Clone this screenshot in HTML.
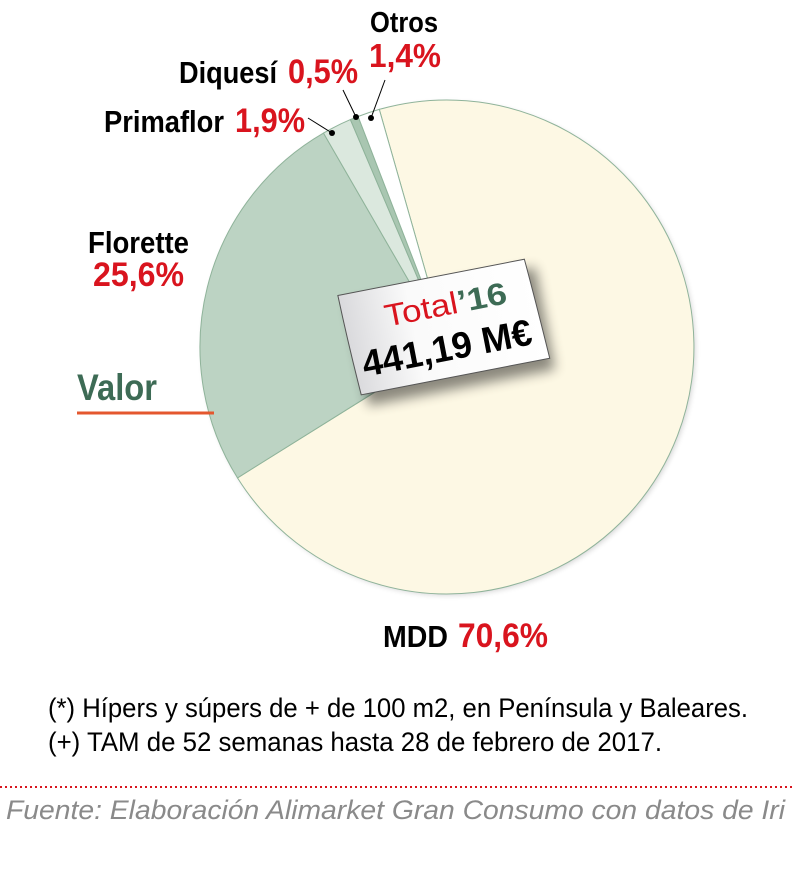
<!DOCTYPE html>
<html><head><meta charset="utf-8"><style>
html,body{margin:0;padding:0;background:#fff;}
svg{display:block;}
text{font-family:"Liberation Sans",sans-serif;}
</style></head><body>
<svg width="794" height="869" viewBox="0 0 794 869" xmlns="http://www.w3.org/2000/svg">
<defs>
<filter id="sh" x="-30%" y="-30%" width="160%" height="160%"><feGaussianBlur stdDeviation="6"/></filter>
<filter id="ps" x="-10%" y="-10%" width="120%" height="120%"><feGaussianBlur stdDeviation="3"/></filter>
<linearGradient id="cg" x1="0" y1="0" x2="1" y2="0"><stop offset="0" stop-color="#d9d9dc"/><stop offset="0.35" stop-color="#fafafa"/><stop offset="1" stop-color="#ffffff"/></linearGradient>
</defs>
<circle cx="449" cy="349" r="246" fill="#000" opacity="0.18" filter="url(#ps)"/>
<!-- pie -->
<g stroke="#8fb39a" stroke-width="1">
<path d="M447,347 L379.3,109.4 A247,247 0 1 1 237.5,477.9 Z" fill="#fdf8e4"/>
<path d="M447,347 L237.5,477.9 A247,247 0 0 1 323.5,133.1 Z" fill="#bcd3c3"/>
<path d="M447,347 L323.5,133.1 A247,247 0 0 1 350.4,119.6 Z" fill="#dbe8de"/>
<path d="M447,347 L350.4,119.6 A247,247 0 0 1 358.1,116.5 Z" fill="#a9c6b1"/>
<path d="M447,347 L358.1,116.5 A247,247 0 0 1 379.3,109.4 Z" fill="#ffffff"/>
</g>
<!-- card -->
<g transform="translate(443,328) rotate(-11)">
<rect x="-88" y="-42" width="190" height="104" fill="#000" opacity="0.45" filter="url(#sh)"/>
<path d="M-97,-52 L93,-52 Q96,-10 99,50 L-93,50 Q-96,0 -97,-52 Z" fill="url(#cg)" stroke="#555" stroke-width="1"/>
<text x="-55" y="-12" font-size="31" fill="#d9141e" textLength="74" lengthAdjust="spacingAndGlyphs">Total</text>
<text x="19" y="-12" font-size="31" font-weight="bold" fill="#3d6b55" textLength="50" lengthAdjust="spacingAndGlyphs">’16</text>
<text x="-86" y="33" font-size="37" font-weight="bold" fill="#000" textLength="172" lengthAdjust="spacingAndGlyphs">441,19 M€</text>
</g>
<!-- leader lines -->
<g stroke="#000" stroke-width="1">
<line x1="308" y1="118" x2="332" y2="133"/>
<line x1="343" y1="90" x2="356" y2="117"/>
<line x1="385" y1="80" x2="371" y2="118"/>
</g>
<circle cx="332" cy="133" r="3"/><circle cx="356" cy="117" r="3"/><circle cx="371" cy="118" r="3"/>
<!-- labels -->
<g font-weight="bold">
<text x="370" y="32" font-size="29" fill="#000" textLength="68" lengthAdjust="spacingAndGlyphs">Otros</text>
<text x="369" y="67" font-size="33" fill="#d9141e" textLength="72" lengthAdjust="spacingAndGlyphs">1,4%</text>
<text x="179" y="83" font-size="31" fill="#000" textLength="98" lengthAdjust="spacingAndGlyphs">Diquesí</text>
<text x="288" y="83" font-size="34" fill="#d9141e" textLength="70" lengthAdjust="spacingAndGlyphs">0,5%</text>
<text x="104" y="132" font-size="31" fill="#000" textLength="120" lengthAdjust="spacingAndGlyphs">Primaflor</text>
<text x="235" y="132" font-size="34" fill="#d9141e" textLength="70" lengthAdjust="spacingAndGlyphs">1,9%</text>
<text x="88" y="253" font-size="31" fill="#000" textLength="101" lengthAdjust="spacingAndGlyphs">Florette</text>
<text x="93" y="286" font-size="34" fill="#d9141e" textLength="91" lengthAdjust="spacingAndGlyphs">25,6%</text>
<text x="383" y="647" font-size="31" fill="#000" textLength="65" lengthAdjust="spacingAndGlyphs">MDD</text>
<text x="458" y="647" font-size="34" fill="#d9141e" textLength="90" lengthAdjust="spacingAndGlyphs">70,6%</text>
<text x="77" y="400" font-size="37" fill="#3d6b55" textLength="80" lengthAdjust="spacingAndGlyphs">Valor</text>
</g>
<line x1="77" y1="413" x2="214" y2="413" stroke="#e4572e" stroke-width="3"/>
<!-- footnotes -->
<text x="48" y="717" font-size="27" fill="#000" textLength="700" lengthAdjust="spacingAndGlyphs">(*) Hípers y súpers de + de 100 m2, en Península y Baleares.</text>
<text x="48" y="751" font-size="27" fill="#000" textLength="614" lengthAdjust="spacingAndGlyphs">(+) TAM de 52 semanas hasta 28 de febrero de 2017.</text>
<line x1="0" y1="787" x2="794" y2="787" stroke="#d9141e" stroke-width="2" stroke-dasharray="2,3"/>
<text x="6" y="819" font-size="27" font-style="italic" fill="#8a8a8a" textLength="779" lengthAdjust="spacingAndGlyphs">Fuente: Elaboración Alimarket Gran Consumo con datos de Iri</text>
</svg>
</body></html>
